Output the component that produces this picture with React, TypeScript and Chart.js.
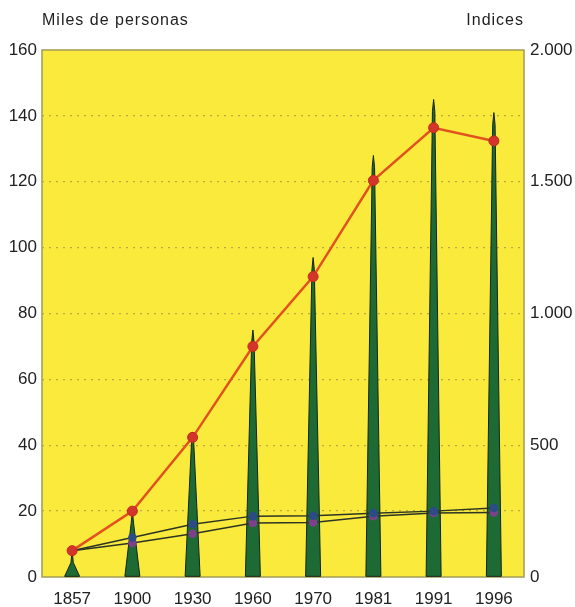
import React, { useEffect, useRef } from 'react';
import { Chart, registerables, Plugin } from 'chart.js';

Chart.register(...registerables);

const years = ['1857', '1900', '1930', '1960', '1970', '1981', '1991', '1996'];
// miles de personas (spikes, left axis)
const personas = [8, 20, 44, 75, 97, 128, 145, 141];
// indices (right axis)
const indiceRojo = [100, 250, 530, 875, 1140, 1505, 1705, 1655];
const indiceAzul = [100, 150, 200, 231, 232, 242, 250, 262];
const indiceMorado = [100, 129, 164, 205, 207, 231, 243, 245];

const leftTitle = 'Miles de personas';
const rightTitle = 'Indices';

const FONT = '"Liberation Sans", Arial, sans-serif';
const YELLOW = '#f9ea3c';
const FRAME = '#a39c55';

const spikePlugin: Plugin = {
    id: 'spikes',
    beforeDraw(chart) {
        const { ctx, chartArea: a } = chart;
        ctx.save();
        ctx.fillStyle = YELLOW;
        ctx.fillRect(a.left, a.top, a.right - a.left, a.bottom - a.top);
        ctx.restore();
    },
    beforeDatasetsDraw(chart) {
        const { ctx, chartArea: a } = chart;
        ctx.save();
        ctx.strokeStyle = FRAME;
        ctx.lineWidth = 1.5;
        ctx.strokeRect(a.left, a.top, a.right - a.left, a.bottom - a.top);
        ctx.restore();
    },
    beforeDatasetDraw(chart, args) {
        const meta = args.meta;
        if (meta.type !== 'bar') return;
        const ctx = chart.ctx;
        ctx.save();
        meta.data.forEach((el: any) => {
            const { x, y, base, width } = el.getProps(['x', 'y', 'base', 'width'], true);
            ctx.beginPath();
            ctx.moveTo(x - width / 2, base);
            ctx.lineTo(x - 1.2, y + 12);
            ctx.lineTo(x, y);
            ctx.lineTo(x + 1.2, y + 12);
            ctx.lineTo(x + width / 2, base);
            ctx.closePath();
            ctx.fillStyle = '#1d6a34';
            ctx.fill();
            ctx.strokeStyle = '#14251a';
            ctx.lineWidth = 1;
            ctx.stroke();
        });
        ctx.restore();
        return false;
    },
    afterDraw(chart) {
        const { ctx, chartArea: a } = chart;
        ctx.save();
        ctx.fillStyle = '#222';
        ctx.font = `16px ${FONT}`;
        (ctx as any).letterSpacing = '1px';
        ctx.textBaseline = 'alphabetic';
        ctx.textAlign = 'left';
        ctx.fillText(leftTitle, a.left, 25);
        ctx.textAlign = 'right';
        ctx.fillText(rightTitle, a.right, 25);
        ctx.restore();
    },
};

const App = () => {
    const chartRef = useRef<HTMLCanvasElement>(null);

    useEffect(() => {
        document.body.style.margin = '0';
        if (chartRef.current == null) return;
        const ctx = chartRef.current.getContext('2d');
        if (ctx == null) return;
        const tickFont = { family: FONT, size: 17 };
        const myChart = new Chart(ctx, {
            type: 'bar',
            data: {
                labels: years,
                datasets: [
                    {
                        type: 'line',
                        data: indiceRojo,
                        yAxisID: 'y1',
                        borderColor: '#e2521f',
                        borderWidth: 2.5,
                        pointRadius: 5,
                        pointBackgroundColor: '#d3352a',
                        pointBorderColor: '#c22a22',
                        pointBorderWidth: 1,
                        order: 1,
                    },
                    {
                        type: 'line',
                        data: indiceAzul,
                        yAxisID: 'y1',
                        borderColor: '#2c3424',
                        borderWidth: 1.5,
                        pointRadius: 3.5,
                        pointBackgroundColor: '#2b4c86',
                        pointBorderColor: '#2b4c86',
                        order: 2,
                    },
                    {
                        type: 'line',
                        data: indiceMorado,
                        yAxisID: 'y1',
                        borderColor: '#2c3424',
                        borderWidth: 1.5,
                        pointRadius: 3.5,
                        pointBackgroundColor: '#7b4289',
                        pointBorderColor: '#7b4289',
                        order: 3,
                    },
                    {
                        type: 'bar',
                        data: personas,
                        yAxisID: 'y',
                        backgroundColor: 'transparent',
                        barThickness: 15,
                        order: 4,
                    },
                ],
            },
            options: {
                animation: false,
                responsive: true,
                maintainAspectRatio: false,
                layout: { padding: { top: 50, left: 0, right: 0, bottom: 0 } },
                plugins: {
                    legend: { display: false },
                    tooltip: { enabled: false },
                },
                scales: {
                    x: {
                        offset: true,
                        grid: { display: false },
                        border: { display: false },
                        ticks: { font: tickFont, color: '#222', padding: 4, maxRotation: 0 },
                        afterFit: (s: any) => { s.height = 30; },
                    },
                    y: {
                        position: 'left',
                        min: 0,
                        max: 160,
                        ticks: { stepSize: 20, font: tickFont, color: '#222', padding: 5 },
                        grid: {
                            drawTicks: false,
                            color: (c: any) => (c.tick && (c.tick.value === 0 || c.tick.value === 160) ? 'transparent' : '#bba743'),
                            lineWidth: 1.3,
                        },
                        border: { display: false, dash: [2, 5] },
                        afterFit: (s: any) => { s.width = 42; },
                    },
                    y1: {
                        position: 'right',
                        min: 0,
                        max: 2000,
                        ticks: {
                            stepSize: 500,
                            font: tickFont,
                            color: '#222',
                            padding: 6,
                            callback: (v: any) => Number(v).toString().replace(/\B(?=(\d{3})+(?!\d))/g, '.'),
                        },
                        grid: { display: false, drawTicks: false },
                        border: { display: false },
                        afterFit: (s: any) => { s.width = 51; },
                    },
                },
            },
            plugins: [spikePlugin],
        });
        return () => {
            myChart.destroy();
        };
    }, []);

    return (
        <div style={{ position: 'relative', width: 575, height: 607 }}>
            <canvas ref={chartRef} />
        </div>
    );
};

export default App;
